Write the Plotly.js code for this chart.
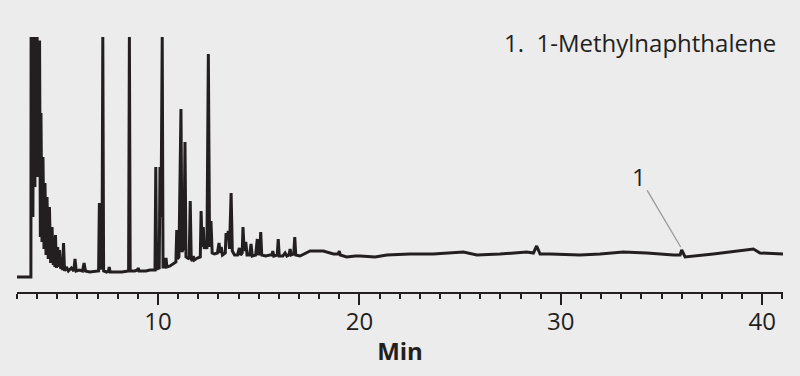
<!DOCTYPE html>
<html>
<head>
<meta charset="utf-8">
<script src="https://cdn.plot.ly/plotly-3.0.1.min.js"></script>
<style>
  html, body { margin: 0; padding: 0; background: #ececec; }
  #chart { width: 800px; height: 376px; }
</style>
</head>
<body>
<div id="chart"></div>
<script>
// Retention time (min) and detector signal (arbitrary units, 0 = start baseline)
var timeMin = [
  3.00, 3.69, 3.70, 3.76, 3.79, 3.82, 3.87, 3.89, 3.92, 4.00, 4.02, 4.05, 4.12,
  4.16, 4.19, 4.24, 4.29, 4.34, 4.39, 4.44, 4.49, 4.55, 4.61, 4.67, 4.74, 4.80,
  4.86, 4.88, 4.91, 4.96, 5.02, 5.06, 5.11, 5.17, 5.22, 5.26, 5.31, 5.36, 5.45,
  5.55, 5.70, 5.82, 5.88, 5.94, 6.10, 6.25, 6.33, 6.40, 6.60, 6.90, 7.05, 7.09,
  7.13, 7.22, 7.26, 7.30, 7.45, 7.54, 7.58, 7.62, 7.90, 8.20, 8.54, 8.58, 8.62,
  8.85, 8.98, 9.02, 9.06, 9.40, 9.60, 9.85, 9.89, 9.93, 10.06, 10.10, 10.15,
  10.21, 10.25, 10.36, 10.40, 10.44, 10.60, 10.80, 10.89, 10.93, 10.97, 11.04,
  11.14, 11.19, 11.29, 11.34, 11.39, 11.55, 11.60, 11.65, 11.70, 11.75, 11.80,
  11.95, 12.10, 12.14, 12.19, 12.25, 12.30, 12.37, 12.43, 12.50, 12.56, 12.63,
  12.69, 12.80, 12.95, 13.03, 13.08, 13.14, 13.20, 13.34, 13.38, 13.44, 13.49,
  13.55, 13.63, 13.69, 13.80, 13.95, 14.04, 14.10, 14.18, 14.22, 14.28, 14.36,
  14.42, 14.55, 14.62, 14.68, 14.85, 14.93, 14.98, 15.05, 15.10, 15.15, 15.35,
  15.55, 15.66, 15.70, 15.75, 15.92, 15.97, 16.02, 16.20, 16.31, 16.40, 16.50,
  16.56, 16.61, 16.74, 16.79, 16.84, 17.05, 17.45, 17.55, 18.21, 18.71, 18.95,
  19.00, 19.05, 19.37, 19.80, 20.03, 20.78, 21.36, 22.51, 23.67, 25.16, 25.83,
  26.98, 28.31, 28.64, 28.80, 28.97, 29.47, 30.95, 31.95, 33.10, 34.27, 35.59,
  35.92, 36.00, 36.17, 37.57, 38.90, 39.56, 39.89, 41.05
];
var signal = [
  0, 0, 240, 240, 60, 240, 240, 90, 240, 240, 100, 235, 235,
  40, 164, 35, 120, 28, 94, 22, 80, 18, 70, 14, 50, 12,
  20, 10, 42, 9, 30, 10, 27, 8, 14, 7, 34, 6, 10,
  6, 9, 6, 18, 6, 7, 6, 14, 6, 5, 6, 6, 74,
  8, 10, 240, 6, 5, 6, 10, 5, 5, 5, 6, 240, 6,
  6, 7, 9, 6, 6, 7, 7, 110, 8, 9, 110, 60,
  240, 10, 10, 19, 10, 11, 14, 15, 47, 18, 20,
  168, 25, 30, 135, 20, 18, 76, 18, 16, 21, 17,
  19, 20, 66, 30, 50, 28, 35, 28, 223, 30, 56,
  24, 23, 24, 34, 24, 30, 22, 24, 44, 38, 46,
  28, 84, 26, 22, 22, 29, 22, 24, 50, 26, 35,
  22, 22, 33, 21, 22, 38, 22, 24, 45, 22, 21,
  22, 22, 26, 21, 22, 38, 21, 21, 24, 21, 22,
  28, 22, 23, 40, 22, 21, 25, 26, 26, 23, 23,
  26, 22, 20, 21, 21, 20, 22, 23, 23, 25, 22,
  23, 25, 24, 31, 23, 23, 22, 23, 25, 24, 22,
  22, 27, 20, 23, 26, 28, 24, 23
];

// Axis ticks
var majorTicks = [10, 20, 30, 40];
var majorTickLabels = ['10', '20', '30', '40'];

// Peak identification
var peakNumbers = ['1'];
var peakTimes = [35.95];
var peakSignals = [30];
var compoundNames = ['1-Methylnaphthalene'];

var ink = '#231f20';
var bg = '#ececec';
var fontFamily = '"Open Sans", "Noto Sans", "DejaVu Sans", sans-serif';
var fontSize = 24;

var traces = [{
  type: 'scatter',
  mode: 'lines',
  x: timeMin,
  y: signal,
  line: { color: ink, width: 3, shape: 'linear' },
  hoverinfo: 'x+y',
  showlegend: false
}];

var annotations = [];
for (var i = 0; i < peakNumbers.length; i++) {
  annotations.push({
    x: peakTimes[i], y: peakSignals[i], xref: 'x', yref: 'y',
    text: peakNumbers[i],
    showarrow: true, arrowhead: 0, arrowwidth: 1.3, arrowcolor: '#999999',
    ax: -42, ay: -71, standoff: 0,
    font: { family: fontFamily, size: fontSize, color: ink }
  });
}
var legendText = compoundNames.map(function (n, i) { return (i + 1) + '.&nbsp;&nbsp;' + n; }).join('<br>');
annotations.push({
  xref: 'paper', yref: 'paper', x: 1, y: 0.978,
  xanchor: 'right', yanchor: 'middle', xshift: -5,
  text: legendText, showarrow: false, align: 'left',
  font: { family: fontFamily, size: fontSize, color: ink }
});

var layout = {
  width: 800, height: 376,
  margin: { l: 17, r: 17, t: 37, b: 84 },
  paper_bgcolor: bg, plot_bgcolor: bg,
  font: { family: fontFamily, color: ink },
  xaxis: {
    range: [3, 41.03],
    showline: true, linecolor: ink, linewidth: 2,
    ticks: 'outside', ticklen: 11, tickwidth: 2, tickcolor: ink,
    tickmode: 'array', tickvals: majorTicks, ticktext: majorTickLabels,
    ticklabelstandoff: -4,
    minor: { dtick: 1, tick0: 0, ticks: 'outside', ticklen: 5, tickwidth: 2, tickcolor: ink, showgrid: false },
    showgrid: false, zeroline: false,
    tickfont: { family: fontFamily, size: fontSize, color: ink },
    title: { text: '<b>Min</b>', font: { family: fontFamily, size: fontSize, color: ink }, standoff: 7 }
  },
  yaxis: {
    range: [-15, 240],
    visible: false, showgrid: false, zeroline: false, fixedrange: true
  },
  annotations: annotations
};

Plotly.newPlot('chart', traces, layout, { displayModeBar: false, staticPlot: true });
</script>
</body>
</html>
